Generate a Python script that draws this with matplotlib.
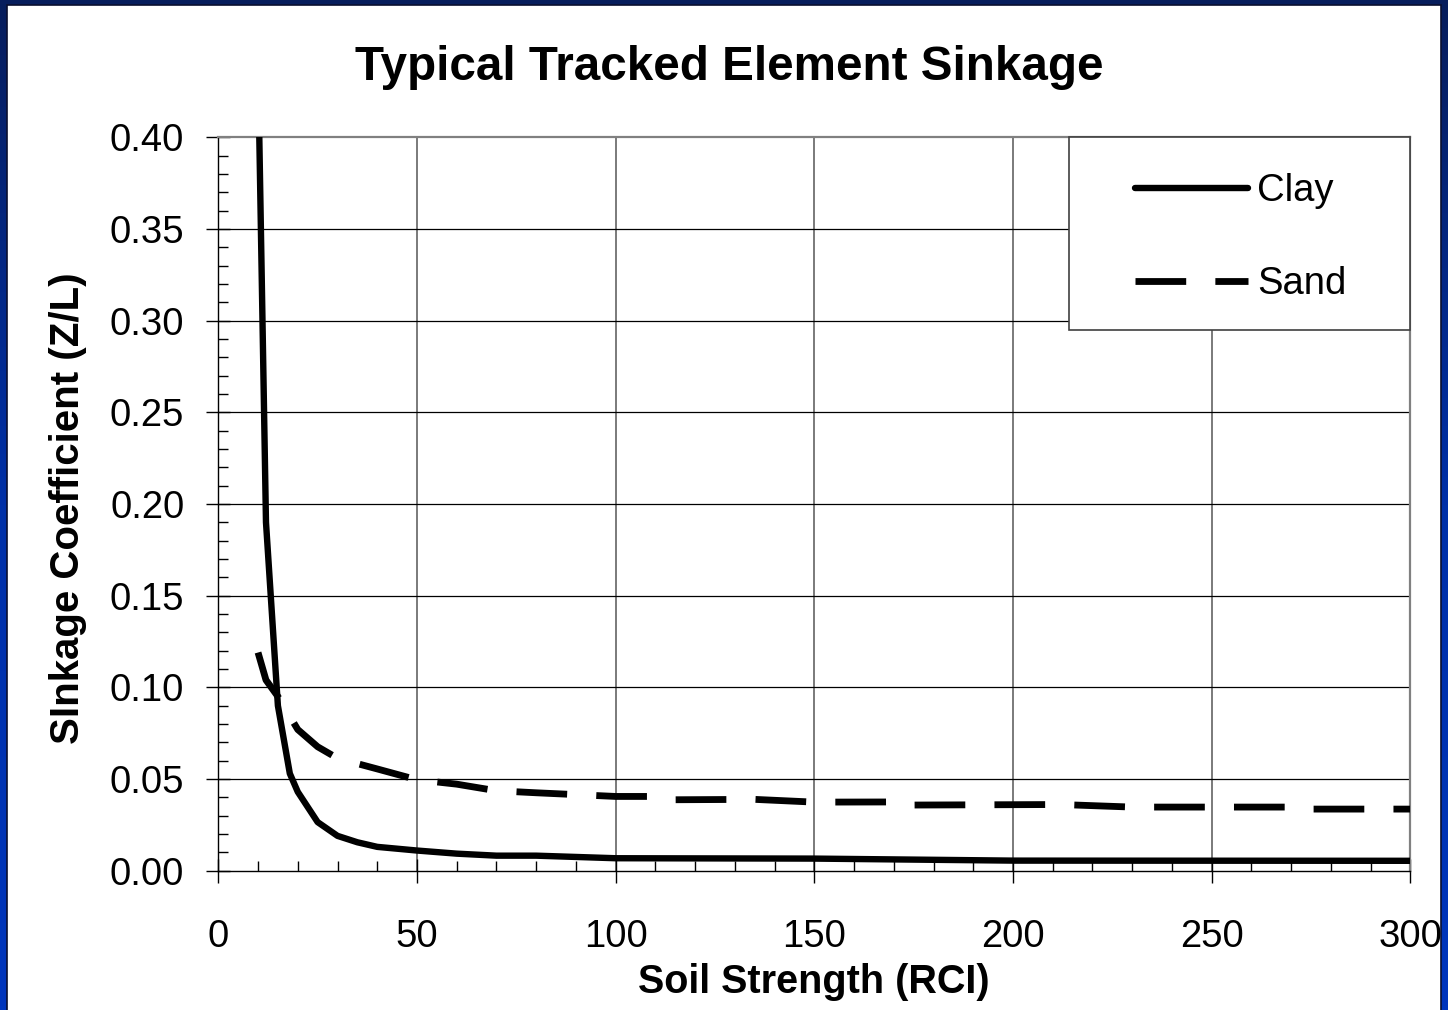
import numpy as np
import matplotlib
matplotlib.use("Agg")
import matplotlib.pyplot as plt
from matplotlib.ticker import MultipleLocator, FormatStrFormatter
from matplotlib.patches import Rectangle
from matplotlib.lines import Line2D
from matplotlib.colors import LinearSegmentedColormap

# ---- data ----
clay_x = [10, 12, 15, 18, 20, 25, 30, 35, 40, 50, 60, 70, 80, 100, 150, 200, 300]
clay_y = [0.44, 0.19, 0.09, 0.053, 0.043, 0.0265, 0.019, 0.0155, 0.013, 0.011,
          0.0093, 0.0082, 0.0082, 0.0068, 0.0066, 0.0055, 0.0054]

sand_x = [10, 12, 15, 20, 25, 30, 40, 50, 60, 70, 80, 100, 112, 115, 135, 150,
          172, 174, 212, 230, 272, 274, 300]
sand_y = [0.119, 0.104, 0.095, 0.077, 0.0676, 0.0613, 0.0555, 0.0496, 0.0472,
          0.0436, 0.0425, 0.0405, 0.0405, 0.0387, 0.0389, 0.0374, 0.0375, 0.0358,
          0.0361, 0.0347, 0.0347, 0.0336, 0.0336]

series_names = ["Clay", "Sand"]
title = "Typical Tracked Element Sinkage"
x_label = "Soil Strength (RCI)"
y_label = "SInkage Coefficient (Z/L)"

plt.rcParams['font.family'] = ['Liberation Sans', 'DejaVu Sans']
plt.rcParams['lines.scale_dashes'] = False

W, H = 1448, 1010
fig = plt.figure(figsize=(W / 100, H / 100), dpi=100)

# background blue gradient frame
bg = fig.add_axes([0, 0, 1, 1], zorder=-10)
grad = np.linspace(0, 1, 256).reshape(-1, 1)
cmap = LinearSegmentedColormap.from_list("frame", ["#071d5c", "#0030a8", "#0036bd"])
bg.imshow(grad, aspect='auto', cmap=cmap, extent=[0, 1, 0, 1], origin='upper')
bg.add_patch(Rectangle((7 / W, -0.01), (1441 - 7) / W, 1 - 5 / H + 0.01,
                       transform=bg.transAxes, facecolor='white',
                       edgecolor='#0a0f30', linewidth=1.2))
bg.set_xlim(0, 1)
bg.set_ylim(0, 1)
bg.axis('off')

left, right = 218.3, 1410.3
top, bottom = 137.3, 870.7
ax = fig.add_axes([left / W, 1 - bottom / H, (right - left) / W, (bottom - top) / H])
ax.set_facecolor('white')

ax.plot(clay_x, clay_y, color='black', lw=4.6, solid_capstyle='round',
        solid_joinstyle='round', zorder=3, label=series_names[0])
ax.plot(sand_x, sand_y, color='black', lw=4.9, linestyle=(0, (36.5, 21)),
        dash_capstyle='butt', zorder=3, label=series_names[1])

ax.set_xlim(0, 300)
ax.set_ylim(0, 0.40)
ax.xaxis.set_major_locator(MultipleLocator(50))
ax.xaxis.set_minor_locator(MultipleLocator(10))
ax.yaxis.set_major_locator(MultipleLocator(0.05))
ax.yaxis.set_minor_locator(MultipleLocator(0.01))
ax.yaxis.set_major_formatter(FormatStrFormatter('%.2f'))

ax.grid(False)
for xv in np.arange(50, 300, 50):
    ax.axvline(xv, color='#707070', lw=1.3, zorder=1)
for yv in np.arange(0.05, 0.40, 0.05):
    ax.axhline(yv, color='black', lw=0.9, zorder=1)

for s in ['left', 'bottom']:
    ax.spines[s].set_color('black')
    ax.spines[s].set_linewidth(1.0)
for s in ['top', 'right']:
    ax.spines[s].set_color('#808080')
    ax.spines[s].set_linewidth(1.6)

ax.tick_params(axis='both', which='major', direction='inout', length=17, width=1.0,
               labelsize=27.5, color='black')
ax.tick_params(axis='both', which='minor', direction='in', length=7, width=1.0,
               color='black')
ax.tick_params(axis='y', which='major', pad=16)
ax.tick_params(axis='x', which='major', pad=26)

fig.text(729 / W, 1 - 67 / H, title, fontsize=34.3, fontweight='bold',
         ha='center', va='center')

ax.set_xlabel(x_label, fontsize=28.5, fontweight='bold')
ax.xaxis.set_label_coords(814 / W, 1 - 982 / H, transform=fig.transFigure)
ax.xaxis.label.set_va('center')
ax.set_ylabel(y_label, fontsize=29, fontweight='bold')
ax.yaxis.set_label_coords(68 / W, 1 - 508 / H, transform=fig.transFigure)
ax.yaxis.label.set_va('center')

# legend box
bx0 = (1069 - left) / (right - left)
by0 = (bottom - 330) / (bottom - top)
ax.add_patch(Rectangle((bx0, by0), 1 - bx0, 1 - by0, transform=ax.transAxes,
                       facecolor='white', edgecolor='#404040', lw=1.2, zorder=4,
                       clip_on=False))
handles = [Line2D([], [], color='black', lw=4.6, solid_capstyle='round'),
           Line2D([], [], color='black', lw=4.9, linestyle=(0, (36.5, 21)),
                  dash_capstyle='butt')]
leg = ax.legend(handles, series_names, loc='center',
                bbox_to_anchor=((bx0 + 1) / 2 + 0.001, (by0 + 1) / 2 - 4 / (bottom - top)),
                bbox_transform=ax.transAxes, frameon=False, fontsize=27.5,
                handlelength=2.95, handletextpad=0.25, labelspacing=1.5,
                borderpad=0.0)
leg.set_zorder(5)

fig.savefig("out.png", dpi=100)
